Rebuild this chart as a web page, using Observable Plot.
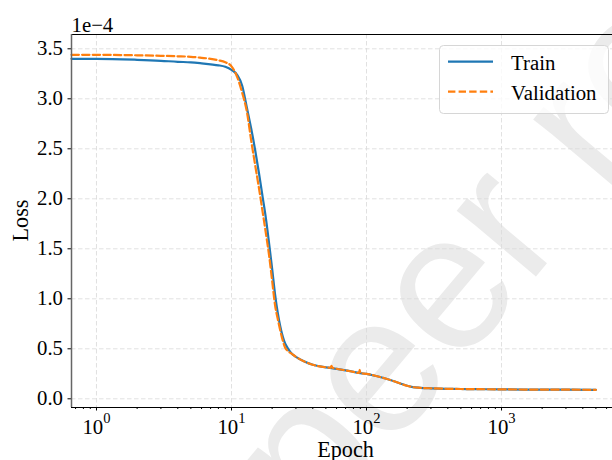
<!DOCTYPE html>
<html><head><meta charset="utf-8">
<script src="https://cdn.jsdelivr.net/npm/d3@7"></script>
<script src="https://cdn.jsdelivr.net/npm/@observablehq/plot@0.6"></script>
<style>
body{margin:0;background:#fff;}
#wrap{position:relative;width:612px;height:460px;overflow:hidden;background:#fff;}
#wrap svg{display:block;}
#wrap svg text, #wrap svg tspan{font-family:"Liberation Serif","Times New Roman",serif !important;}
#wrap svg text.wm{font-family:"Liberation Sans",Arial,sans-serif !important;}
</style></head><body><div id="wrap"></div>
<script>
// ---- data (loss values in units of 1e-4) ----
const trainEpochs = [0.653,1,2,3,4,5,6,7,8,9,10,11,12,13,14,15,16,17,18,19,20,21,22,23,24,25,26,28,30,35,40,50,60,70,80,90,100,120,140,160,180,200,220,250,300,400,500,700,1000,2000,3000,5000];
const trainLoss   = [3.40,3.40,3.39,3.38,3.37,3.365,3.355,3.345,3.335,3.32,3.29,3.24,3.13,2.91,2.70,2.48,2.25,2.02,1.80,1.55,1.30,1.05,0.86,0.72,0.62,0.55,0.51,0.45,0.42,0.37,0.34,0.315,0.30,0.285,0.27,0.256,0.25,0.225,0.20,0.175,0.15,0.13,0.117,0.11,0.105,0.10,0.098,0.096,0.094,0.092,0.091,0.09];
const valEpochs = [0.653,1,2,3,4,5,6,7,8,9,10,11,12,13,14,15,16,17,18,19,20,21,22,23,24,25,26,28,30,35,40,50,54,55,56,60,70,80,88,89,90,100,120,140,160,180,200,220,250,300,400,500,700,1000,2000,3000,5000];
const valLoss   = [3.44,3.44,3.435,3.43,3.425,3.42,3.41,3.40,3.385,3.365,3.325,3.22,3.06,2.87,2.58,2.33,2.10,1.87,1.65,1.43,1.18,0.94,0.80,0.68,0.58,0.51,0.48,0.45,0.42,0.37,0.34,0.315,0.31,0.33,0.31,0.30,0.285,0.27,0.258,0.29,0.256,0.25,0.225,0.20,0.175,0.15,0.13,0.117,0.11,0.105,0.10,0.098,0.096,0.094,0.092,0.091,0.09];
const seriesNames = ["Train","Validation"];
const seriesColors = ["#1f77b4","#ff7f0e"];
const xMajorTicks = [1,10,100,1000];
const yTicks = [0,0.5,1,1.5,2,2.5,3,3.5];
const xDomain = [0.653, 6637];
const yDomain = [-0.087, 3.643];
const xLabel = "Epoch", yLabel = "Loss", offsetLabel = "1e\u22124";
const watermarkHead = "Not ", watermarkTail = "peer reviewed";

const xMinorTicks = [];
for (let k = -1; k <= 3; k++) for (let m = 2; m <= 9; m++) {
  const v = m * Math.pow(10, k);
  if (v >= xDomain[0] && v <= xDomain[1]) xMinorTicks.push(v);
}
const trainRows = trainEpochs.map((e,i)=>({epoch:e, loss:trainLoss[i]}));
const valRows = valEpochs.map((e,i)=>({epoch:e, loss:valLoss[i]}));

const serif = "Liberation Serif, Times New Roman, serif";
const gridStyle = {stroke:"#d9d9d9", strokeOpacity:1, strokeWidth:0.8, strokeDasharray:"4.5,2.5"};

const plot = Plot.plot({
  width:612, height:460,
  marginLeft:71, marginTop:34, marginRight:0, marginBottom:53,
  style:{fontFamily:serif, fontSize:"20.8px", background:"transparent", color:"#000"},
  x:{type:"log", domain:xDomain},
  y:{domain:yDomain},
  marks:[
    Plot.gridX(xMajorTicks, gridStyle),
    Plot.gridY(yTicks, gridStyle),
    Plot.line(trainRows,{x:"epoch", y:"loss", stroke:seriesColors[0], strokeWidth:2.2, curve:"monotone-x"}),
    Plot.line(valRows,{x:"epoch", y:"loss", stroke:seriesColors[1], strokeWidth:2.2, strokeDasharray:"7.4,3.2", curve:"monotone-x"}),
    Plot.axisX(xMajorTicks,{tickSize:3.5, tickPadding:8.6, tickFormat:d=>"10^"+Math.round(Math.log10(d)), label:null, fontSize:20.8}),
    Plot.axisX(xMinorTicks,{tickSize:2, tickFormat:()=>"", label:null}),
    Plot.axisY(yTicks,{tickSize:3.5, tickPadding:5, tickFormat:d3.format(".1f"), label:null, fontSize:20.8}),
    Plot.ruleY([yDomain[1]],{stroke:"#000", strokeWidth:1.1}),
    Plot.ruleY([yDomain[0]],{stroke:"#000", strokeWidth:1.1}),
    Plot.ruleX([xDomain[0]],{stroke:"#666", strokeWidth:1.5})
  ]
});
document.getElementById("wrap").appendChild(plot);
const svg = d3.select(plot);

// superscript tick labels
svg.selectAll('[aria-label="x-axis tick label"] text').each(function(){
  const t = d3.select(this); const s = t.text();
  if (!s.startsWith("10^")) return;
  const k = s.slice(3);
  t.text("10");
  t.append("tspan").attr("dy","-11.6").attr("font-size","14.6px").text(k);
});

// watermark behind everything
const wm = svg.insert("g", ":first-child").attr("transform","translate(318,536) rotate(-50)");
wm.append("text").attr("class","wm").attr("text-anchor","end")
  .attr("font-size",195).attr("fill","#ebebeb").text(watermarkHead);
wm.append("text").attr("class","wm").attr("text-anchor","start")
  .attr("font-size",195).attr("fill","#ebebeb").text(watermarkTail);

// axis labels and offset text
svg.append("text").attr("x",345.5).attr("y",456.7).attr("text-anchor","middle")
  .attr("font-size",22.2).attr("fill","#000").text(xLabel);
svg.append("text").attr("transform","translate(27.5,220.5) rotate(-90)").attr("text-anchor","middle")
  .attr("font-size",22.2).attr("fill","#000").text(yLabel);
svg.append("text").attr("x",71.5).attr("y",31.5).attr("text-anchor","start")
  .attr("font-size",20.8).attr("fill","#000").text(offsetLabel);

// legend
const lg = svg.append("g");
lg.append("rect").attr("x",439.5).attr("y",45.5).attr("width",169).attr("height",68).attr("rx",4)
  .attr("fill","rgba(255,255,255,0.8)").attr("stroke","#d6d6d6").attr("stroke-width",1);
seriesNames.forEach((name,i)=>{
  const y = 61.7 + i*30;
  lg.append("line").attr("x1",448).attr("x2",493).attr("y1",y).attr("y2",y)
    .attr("stroke",seriesColors[i]).attr("stroke-width",2.2)
    .attr("stroke-dasharray", i===1 ? "7.4,3.2" : null);
  lg.append("text").attr("x",511).attr("y",70 + i*30).attr("text-anchor","start")
    .attr("font-size",20.8).attr("fill","#000").text(name);
});
</script></body></html>
